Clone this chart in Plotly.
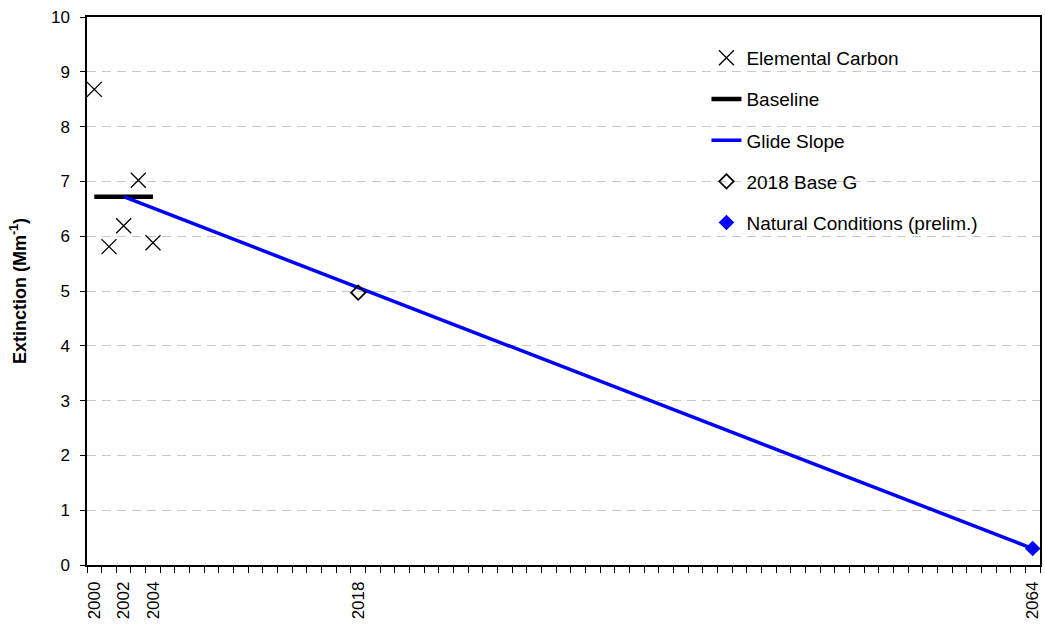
import plotly.graph_objects as go

# ---- data ----
ec_years = [2000, 2001, 2002, 2003, 2004]
ec_values = [8.68, 5.81, 6.19, 7.02, 5.88]

baseline_years = [2000, 2004]
baseline_values = [6.72, 6.72]

glide_years = [2002, 2064]
glide_values = [6.72, 0.30]

base_g_years = [2018]
base_g_values = [4.97]

natural_years = [2064]
natural_values = [0.30]

tick_years = [2000, 2002, 2004, 2018, 2064]
tick_labels = ["2000", "2002", "2004", "2018", "2064"]

FONT = "Liberation Sans, Arial, sans-serif"

fig = go.Figure()

fig.add_trace(go.Scatter(
    x=ec_years, y=ec_values, mode="markers", name="Elemental Carbon",
    marker=dict(symbol="x-thin-open", size=15, color="black",
                line=dict(width=1.3, color="black")),
    legendgroup="a"))

fig.add_trace(go.Scatter(
    x=baseline_years, y=baseline_values, mode="lines", name="Baseline",
    line=dict(color="black", width=4.5), legendgroup="b"))

fig.add_trace(go.Scatter(
    x=glide_years, y=glide_values, mode="lines", name="Glide Slope",
    line=dict(color="#0000FF", width=3.5), legendgroup="c"))

fig.add_trace(go.Scatter(
    x=base_g_years, y=base_g_values, mode="markers", name="2018 Base G",
    marker=dict(symbol="diamond-open", size=11, color="black",
                line=dict(width=1.8, color="black")),
    legendgroup="d"))

fig.add_trace(go.Scatter(
    x=natural_years, y=natural_values, mode="markers",
    name="Natural Conditions (prelim.)",
    marker=dict(symbol="diamond", size=12, color="#0000FF",
                line=dict(width=0)),
    legendgroup="e"))

fig.update_layout(
    width=1045, height=627,
    margin=dict(l=87, r=3, t=17, b=62),
    paper_bgcolor="white", plot_bgcolor="white",
    font=dict(family=FONT, size=17, color="black"),
    showlegend=True,
    legend=dict(
        x=0.650, y=0.96, xanchor="left", yanchor="top",
        bgcolor="rgba(0,0,0,0)", borderwidth=0,
        tracegroupgap=13.5, font=dict(size=19, family=FONT),
    ),
    xaxis=dict(
        range=[1999.5, 2064.5],
        tickmode="array", tickvals=tick_years, ticktext=tick_labels,
        tickangle=-90, ticks="", ticklen=0,
        ticklabelstandoff=8,
        tickfont=dict(size=17, family=FONT),
        showgrid=False, zeroline=False,
        showline=True, linecolor="black", linewidth=1.5, mirror=True,
        minor=dict(tick0=1999.5, dtick=1, ticks="outside", ticklen=6,
                   tickcolor="black", tickwidth=1, showgrid=False),
    ),
    yaxis=dict(
        range=[0, 10], tickmode="linear", tick0=0, dtick=1,
        ticks="outside", ticklen=5, tickcolor="black",
        ticklabelstandoff=7,
        tickfont=dict(size=17, family=FONT),
        showgrid=True, gridcolor="#C8C8C8", griddash="9px,6px", gridwidth=1,
        zeroline=False,
        showline=True, linecolor="black", linewidth=1.5, mirror=True,
        title=dict(text="<b>Extinction (Mm<sup>-1</sup>)</b>",
                   font=dict(size=18, family=FONT), standoff=20),
    ),
)

fig.write_html("out.html",
               config={"displayModeBar": False},
               post_script="document.body.style.margin='0';document.body.style.overflow='hidden';")
